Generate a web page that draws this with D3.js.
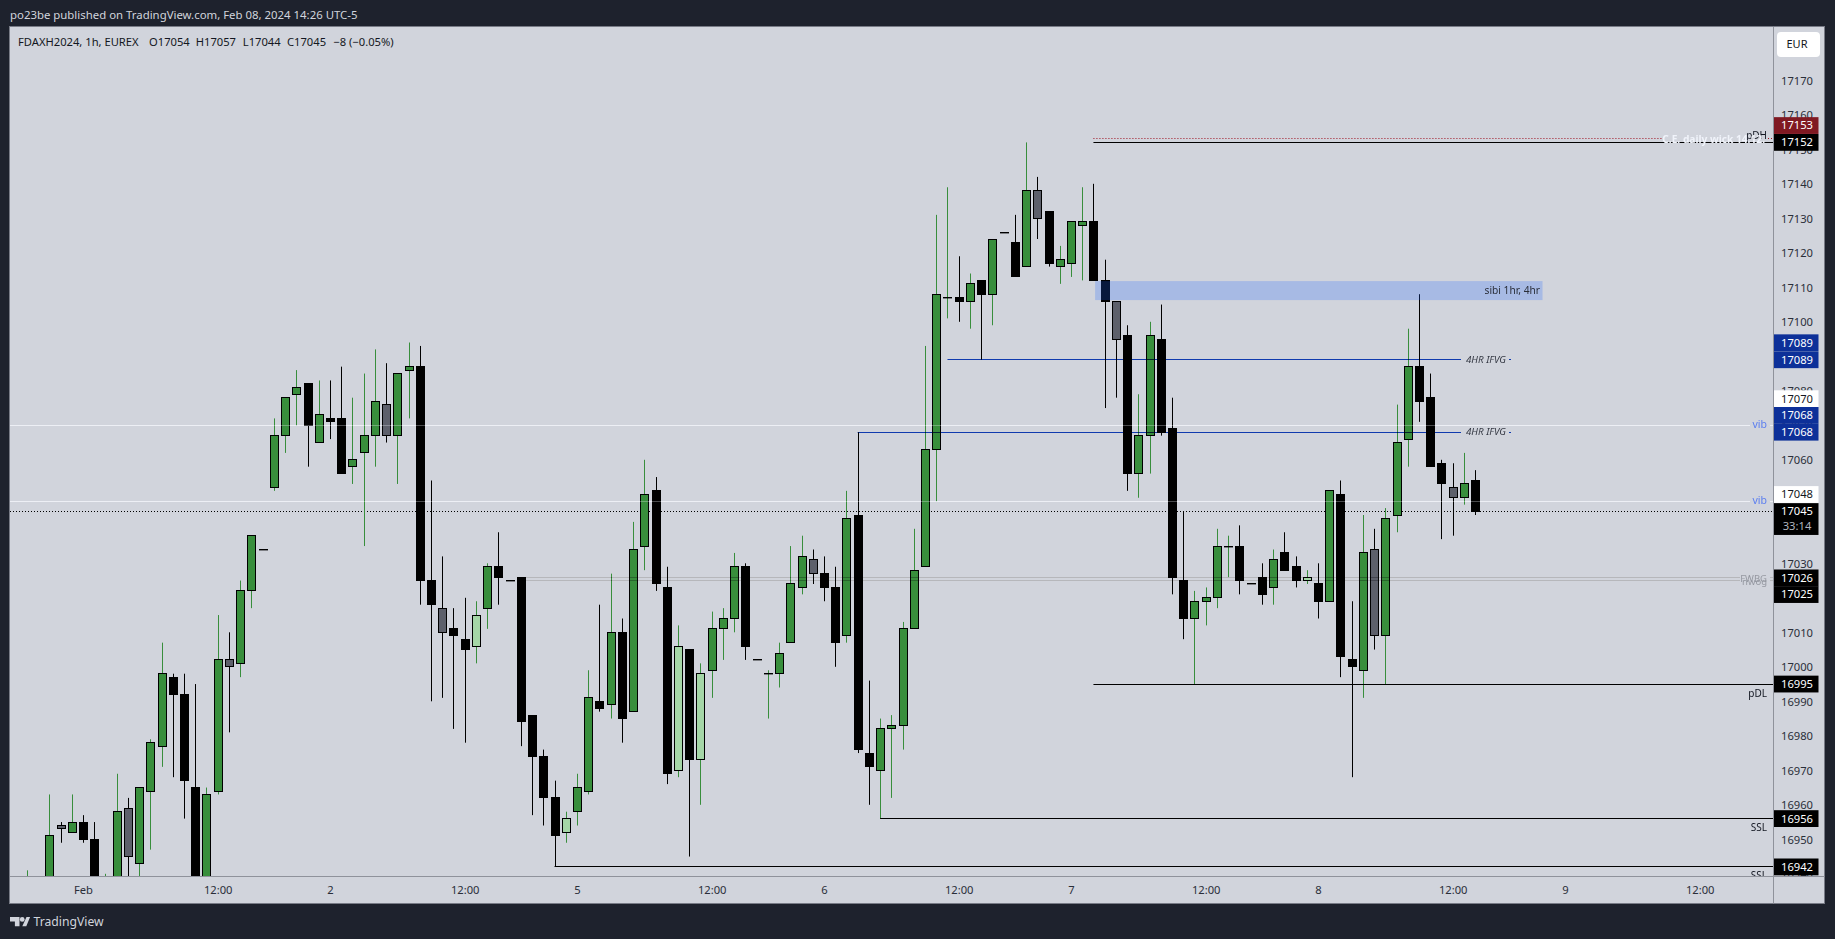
<!DOCTYPE html>
<html><head><meta charset="utf-8">
<script src="https://d3js.org/d3.v7.min.js"></script>
<style>
html,body{margin:0;padding:0;background:#1e222d;overflow:hidden}
svg{display:block}
text{font-family:"Noto Sans",sans-serif}
.axis path,.axis line{display:none}
.axis text{font-family:"Noto Sans",sans-serif;font-size:11.2px;fill:#2a2e39}
</style></head><body><svg id="c" width="1835" height="939"></svg>
<script>
// ---- data: bars are numbered from -5; 0 is the first bar of Feb 1 ----
const firstBar=-5;
const bodyTop=[16935,16935,16951,16954,16955,16955,16950,16935,16958,16959,
16965,16978,16998,16997,16992,16965,16963,17002,17002,17022,
17038,17034,17067,17078,17081,17082,17073,17072,17072,17060,
17067,17077,17076,17085,17087,17087,17025,17017,17011,17008,
17015,17029,17029,17025,17026,16986,16974,16962,16956,16965,
16991,16990,17010,17010,17034,17050,17051,17023,17006,17005,
16998,17011,17014,17029,17029,17002,16998,17004,17024,17032,
17031,17027,17023,17043,17044,16975,16982,16983,17011,17028,
17063,17108,17107,17107,17111,17112,17124,17126,17123,17138,
17138,17132,17118,17129,17129,17129,17112,17106,17096,17067,
17096,17095,17069,17025,17019,17020,17035,17035,17035,17024,
17026,17031,17033,17029,17026,17024,17051,17050,17002,17033,
17034,17043,17065,17087,17087,17078,17059,17052,17053,17054];
const bodyBottom=[16925,16925,16935,16953,16952,16950,16930,16925,16935,16945,
16943,16964,16977,16992,16967,16930,16930,16964,17000,17001,
17022,17034,17052,17067,17079,17070,17065,17071,17056,17058,
17062,17067,17067,17067,17086,17025,17018,17010,17009,17005,
17006,17017,17026,17025,16984,16974,16962,16951,16952,16958,
16964,16988,16989,16985,16987,17035,17024,16969,16970,16973,
16973,16999,17011,17014,17006,17002,16998,16998,17007,17023,
17027,17023,17007,17009,16976,16971,16970,16982,16983,17011,
17029,17063,17107,17106,17106,17108,17108,17126,17113,17116,
17130,17117,17116,17117,17128,17112,17106,17095,17056,17056,
17067,17068,17026,17014,17014,17019,17020,17035,17025,17024,
17021,17023,17028,17025,17025,17019,17019,17003,17000,16999,
17009,17009,17044,17066,17077,17058,17053,17049,17049,17045];
const wickHigh=[16941,16935,16963,16955,16963,16957,16955,16940,16969,16962,
16965,16979,17007,16998,16998,16995,16965,17015,17010,17025,
17038,17034,17072,17078,17086,17082,17083,17083,17087,17078,
17085,17092,17088,17085,17094,17093,17054,17032,17017,17020,
17019,17030,17039,17025,17026,16986,16976,16967,16958,16969,
16999,17018,17027,17014,17042,17060,17055,17029,17012,17005,
17001,17016,17017,17033,17030,17002,16999,17007,17035,17038,
17034,17032,17029,17051,17068,16996,16985,16986,17013,17040,
17093,17131,17139,17119,17114,17112,17124,17126,17131,17152,
17142,17132,17122,17129,17139,17140,17118,17106,17099,17079,
17100,17105,17078,17045,17022,17023,17040,17038,17041,17024,
17030,17034,17039,17032,17028,17030,17051,17054,17019,17044,
17040,17046,17076,17098,17108,17085,17060,17059,17062,17057];
const wickLow=[16920,16925,16930,16949,16952,16949,16930,16925,16930,16935,
16935,16947,16971,16968,16956,16930,16930,16963,16981,16997,
17017,17034,17051,17062,17070,17058,17065,17066,17056,17053,
17035,17058,17065,17053,17072,17018,16990,16991,16982,16978,
17001,17011,17018,17025,16977,16957,16954,16942,16949,16954,
16963,16987,16985,16978,16987,17028,17022,16966,16968,16945,
16960,16991,17002,17010,17002,17002,16985,16994,17007,17021,
17024,17019,17000,17007,16975,16960,16956,16962,16976,17011,
17029,17048,17101,17100,17098,17089,17099,17126,17113,17116,
17124,17116,17111,17113,17112,17112,17075,17078,17051,17049,
17056,17067,17021,17008,16995,17012,17017,17026,17021,17024,
17018,17018,17028,17023,17024,17014,17019,16997,16968,16991,
17005,16995,17039,17058,17071,17058,17037,17038,17047,17044];
const tones=("gkgsgkkggs"+"gggkkkggsg"+"gkgggkgkkg"+"ggsggkkskk"+"lgkkkkkklg"+
"gkgkggkklk"+"lgggkkgggg"+"skkgkkgggg"+"gggkgkgkkg"+"skgggkkskg"+
"gkkkggggkk"+"kgkklkgkkg"+"sgggkkksgk").split("");
const priceTicks=[17170,17160,17150,17140,17130,17120,17110,17100,17090,17080,17070,17060,17050,17040,17030,17020,17010,17000,16990,16980,16970,16960,16950,16940];
const timeTickBars=[0,12,22,34,44,56,66,78,88,100,110,122,132,144];
const timeTickLabels=["Feb","12:00","2","12:00","5","12:00","6","12:00","7","12:00","8","12:00","9","12:00"];
const legendParts=["FDAXH2024, 1h, EUREX","O17054","H17057","L17044","C17045","\u22128 (\u22120.05%)"];
const whiteLevels=[17070,17048];
const greyLevels=[17026,17025];
const blackLevels=[17152,16995,16956,16942];
const blackLevelStarts=[90,90,71,42];
const blackLevelNames=["pDH","pDL","SSL","SSL"];
const blueLevels=[17089,17068];
const blueLevelStarts=[77,69];
const zoneTop=17111.8, zoneBottom=17106.3, zoneStartBar=90.15, zoneEndBar=130;
const redLevel=17153, lastPrice=17045;
const labelValues=[17153,17152,17089,17089,17070,17068,17068,17048,17045,17026,17025,16995,16956,16942];
const labelTones=["red","black","blue","blue","white","blue","blue","white","black","black","black","black","black","black"];

// ---- layout ----
const W=1835,H=939,L=10,R=1773,T=27,B=876,FR=1824.5,FB=903.5;
const x=d3.scaleLinear().domain([0,124]).range([83,83+124*11.227]);
const y=d3.scaleLinear().domain([16950,17170]).range([839.3,80.3]);
const px=v=>Math.round(x(v))+.5, py=v=>Math.floor(y(v))+.5;
const labelNudges=[-13.4,0,-17,0,-26.6,-16.8,0,-6.7,0,.8,14,0,0,0];
const svg=d3.select("#c");
svg.append("rect").attr("width",W).attr("height",H).attr("fill","#1e222d");
svg.append("rect").attr("x",L-.5).attr("y",T-.5).attr("width",FR-L+.5).attr("height",FB-T+.5)
  .attr("fill","#d1d4dc").attr("stroke","#787b86");
const defs=svg.append("defs");
defs.append("clipPath").attr("id","plot").append("rect").attr("x",L).attr("y",T).attr("width",R-L).attr("height",B-T);
defs.append("clipPath").attr("id","scale").append("rect").attr("x",R).attr("y",T).attr("width",FR-R).attr("height",B-T);
const plot=svg.append("g").attr("clip-path","url(#plot)");

function hline(g,v,a,b,color,w,extra){
  const l=g.append("line").attr("x1",a).attr("x2",b).attr("y1",py(v)).attr("y2",py(v))
    .attr("stroke",color).attr("stroke-width",w||1);
  if(extra)extra(l);return l;
}
// under the candles
hline(plot,lastPrice,L,R,"#000",1,l=>l.attr("stroke-dasharray","1 2"));
whiteLevels.forEach(v=>{hline(plot,v,L,1750,"#eceef3");hline(plot,v,1770,R,"#eceef3");});

// candles
const bars=bodyTop.map((t,i)=>({i:i+firstBar,t,b:bodyBottom[i],h:wickHigh[i],l:wickLow[i],tone:tones[i]}));
const fillOf={g:"#388e3c",k:"#000",s:"#5d606b",l:"#a5d6a7"};
const wickOf={g:"#388e3c",k:"#000",s:"#000",l:"#388e3c"};
plot.selectAll("line.w").data(bars).join("line").attr("class","w")
  .attr("x1",d=>px(d.i)).attr("x2",d=>px(d.i)).attr("y1",d=>y(d.h)).attr("y2",d=>y(d.l))
  .attr("stroke",d=>wickOf[d.tone]).attr("stroke-width",1);
plot.selectAll("rect.b").data(bars).join("rect").attr("class","b")
  .attr("x",d=>px(d.i)-4).attr("width",8)
  .attr("y",d=>Math.floor(y(d.t))+.5).attr("height",d=>Math.max(Math.floor(y(d.b))-Math.floor(y(d.t)),.4))
  .attr("fill",d=>fillOf[d.tone]).attr("stroke","#000").attr("stroke-width",1);

// over the candles
whiteLevels.forEach(v=>hline(plot,v,L,1750,"#f0f3fa",1,l=>l.attr("opacity",.3)));
greyLevels.forEach(v=>{
  const m=l=>l.style("mix-blend-mode","multiply");
  hline(plot,v,x(39),1740,"#b6b7bb",1.1,m);hline(plot,v,1770,R,"#b6b7bb",1.1,m);
});
blueLevels.forEach((v,i)=>{
  const m=l=>l.style("mix-blend-mode","multiply");
  hline(plot,v,x(blueLevelStarts[i]),1461,"#103aae",1.2,m);hline(plot,v,1509,1511,"#103aae",1.2,m);
});
blackLevels.forEach((v,i)=>hline(plot,v,x(blackLevelStarts[i]),R,"#000",1.1));
// red dotted level, with a gap for its own white label
hline(plot,redLevel,x(90),1662,"#a01020",1,l=>l.attr("stroke-dasharray","1 2"));
hline(plot,redLevel,1768,R,"#a01020",1,l=>l.attr("stroke-dasharray","1 2"));
// zone
plot.append("rect").attr("x",x(zoneStartBar)).attr("width",x(zoneEndBar)-x(zoneStartBar))
  .attr("y",y(zoneTop)).attr("height",y(zoneBottom)-y(zoneTop)).attr("fill","rgb(33,104,255)").attr("opacity",.24);

// level texts
function note(t,xp,yp,o){
  o=o||{};
  return plot.append("text").text(t).attr("x",xp).attr("y",yp).attr("dy","0.35em")
   .attr("text-anchor",o.a||"end").attr("font-size",o.s||10).attr("fill",o.c||"#2a2e39")
   .attr("font-style",o.i||"normal").attr("font-weight",o.w||400);
}
note("sibi 1hr, 4hr",1540,y(17109),{s:10.2,c:"#2a2e39"});
note("4HR IFVG",1506,y(blueLevels[0]),{s:9.8,i:"italic",c:"#363a45"});
note("4HR IFVG",1506,y(blueLevels[1])-1,{s:9.8,i:"italic",c:"#363a45"});
whiteLevels.forEach(v=>note("vib",1767,y(v)-.7,{s:10.5,c:"#5b7ef0"}));
note("FWBG",1767,y(greyLevels[0])+1.5,{s:9.5,c:"#9598a1"});
note("nwog",1767,y(greyLevels[1])+1.5,{s:9.5,c:"#9598a1"});
blackLevelNames.forEach((n,i)=>note(n,1767,y(blackLevels[i])+(i==0?-7:9),{s:10,c:"#131722"}));
note("C.E. daily wick 14.12.",1765,y(redLevel),{s:10.2,w:700,c:"#f0f3fa"});

// axes
const yAxis=svg.append("g").attr("class","axis").attr("clip-path","url(#scale)").call(d3.axisRight(y).tickValues(priceTicks).tickFormat(d3.format("d")).tickSize(0));
yAxis.attr("transform","translate(0,0)").selectAll("text").attr("x",1797).attr("text-anchor","middle").attr("dy","0.35em").attr("y",0);
const xAxis=svg.append("g").attr("class","axis")
  .attr("transform",`translate(0,${B})`)
  .call(d3.axisBottom(x).tickValues(timeTickBars).tickFormat((d,i)=>timeTickLabels[i]).tickSize(0));
xAxis.selectAll("text").attr("y",0).attr("dy","17.6");
// frame dividers
svg.append("line").attr("x1",R+.5).attr("x2",R+.5).attr("y1",T).attr("y2",FB).attr("stroke","#8f929b");
svg.append("line").attr("x1",L).attr("x2",FR).attr("y1",B+.5).attr("y2",B+.5).attr("stroke","#8f929b");

// price labels
const lab={red:["#801922","#fff"],black:["#000","#fff"],blue:["#0d3099","#fff"],white:["#fff","#131722"]};
const scaleLabels=svg.append("g").attr("clip-path","url(#scale)");
labelValues.forEach((v,i)=>{
  const cy=y(v)+labelNudges[i];
  const extra=v===lastPrice?15:0;
  scaleLabels.append("rect").attr("x",R+1).attr("width",44.5).attr("y",cy-8.4).attr("height",16.8+extra)
    .attr("fill",lab[labelTones[i]][0]);
  scaleLabels.append("text").text(v).attr("x",1797).attr("y",cy).attr("dy","0.35em").attr("text-anchor","middle")
    .attr("font-size",11.2).attr("fill",lab[labelTones[i]][1]);
  if(extra)scaleLabels.append("text").text("33:14").attr("x",1797).attr("y",cy+14.6).attr("dy","0.35em").attr("text-anchor","middle")
    .attr("font-size",11.2).attr("fill","#b2b5be");
});
// EUR
svg.append("rect").attr("x",1777).attr("y",32).attr("width",43).attr("height",25).attr("rx",4).attr("fill","#fff");
svg.append("text").text("EUR").attr("x",1797).attr("y",44.5).attr("dy","0.35em").attr("text-anchor","middle").attr("font-size",11).attr("fill","#131722");

// header and legend
svg.append("text").text("po23be published on TradingView.com, Feb 08, 2024 14:26 UTC-5").attr("x",10).attr("y",15).attr("dy","0.35em")
  .attr("font-size",11.4).attr("fill","#d1d4dc");
const legendX=[18,149,195.7,242.8,287,333.3];
legendParts.forEach((t,i)=>svg.append("text").text(t).attr("x",legendX[i]).attr("y",41.7).attr("dy","0.35em")
  .attr("font-size",11.2).attr("fill","#131722"));

// logo
svg.append("path").attr("d","M10 917h9.5v9.2h-4.6v-4.6h-4.9z M26.5 917h3.6l-3.8 9.2h-4z").attr("fill","#d1d4dc");
svg.append("circle").attr("cx",22.2).attr("cy",919.4).attr("r",2.4).attr("fill","#d1d4dc");
svg.append("text").text("TradingView").attr("x",33.5).attr("y",921.7).attr("dy","0.35em").attr("font-size",12.2).attr("fill","#d1d4dc");
</script></body></html>
